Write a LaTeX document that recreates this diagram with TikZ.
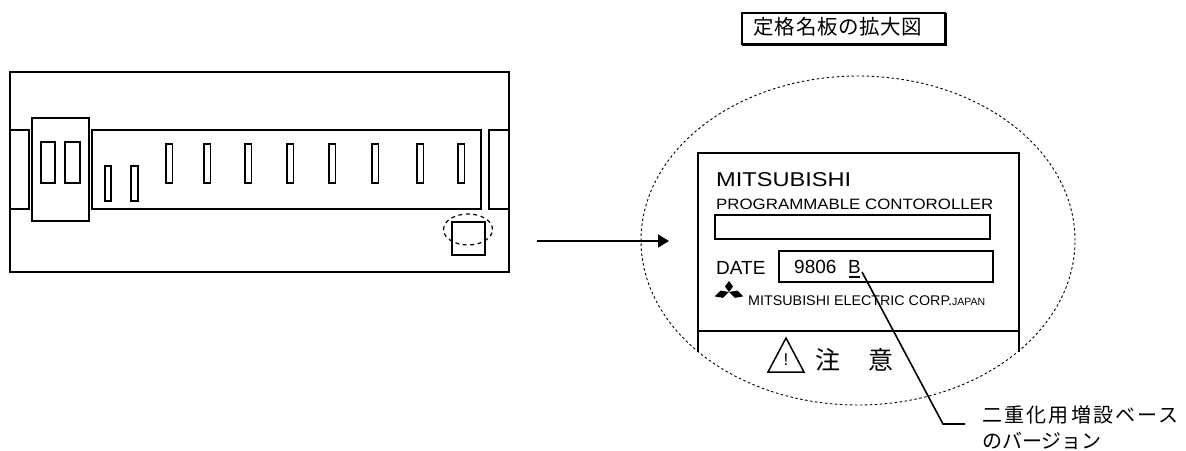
\documentclass[tikz,border=0pt]{standalone}
\usepackage{graphicx}
\usepackage{fontspec}
\setmainfont{Liberation Sans}
\newfontfamily\jp{Noto Sans CJK JP}
\newfontfamily\jpls[LetterSpace=11]{Noto Sans CJK JP}
\newfontfamily\jpt[LetterSpace=3]{Noto Sans CJK JP}
\usetikzlibrary{arrows.meta,shapes.geometric}
\newcommand\fsz[1]{\fontsize{#1}{#1}\selectfont}
\tikzset{
  dev/.style={line width=2.2pt},
  slot/.style={line width=1.9pt},
  plate/.style={line width=2.1pt},
  txt/.style={inner sep=0pt, anchor=base west},
  bigdash/.style={draw, ellipse, inner sep=0pt, line width=0.9pt, dash pattern=on 2.5pt off 2.5pt},
  smalldash/.style={draw, ellipse, inner sep=0pt, line width=1.2pt, dash pattern=on 4pt off 3.5pt},
  rhomb/.style={fill=black}
}
\begin{document}
\begin{tikzpicture}[x=1pt,y=-1pt]
\useasboundingbox (0,0) rectangle (1186,450);

% ---------- left device ----------
\draw[dev] (10,72) rectangle (509,272);
\draw[dev] (10,130) rectangle (29,209);
\draw[dev] (489,130) rectangle (509,209);
\draw[dev] (32,118) rectangle (89,221);
\draw[dev] (41,142) rectangle (55,183);
\draw[dev] (65,142) rectangle (80,183);
\draw[dev] (92,130) rectangle (481,209);
\draw[slot] (105,166) rectangle (111,201);
\draw[slot] (131,166) rectangle (138,201);
\foreach \xx in {166,204,245,287,329,372,417,458}
  \draw[slot] (\xx,144) rectangle ++(6.5,39);
\node[draw, dev, inner sep=0pt, minimum width=33pt, minimum height=33pt] (sq) at (468.5,238.5) {};
\node[smalldash, minimum width=49pt, minimum height=31pt] (smallell) at (468,229.5) {};

% ---------- arrow ----------
\coordinate (as) at (537,241);
\coordinate (ae) at (669,241);
\draw[line width=1.4pt, -{Triangle[length=11pt,width=13pt]}] (as) -- (ae);

% ---------- title ----------
\node[inner sep=0pt] (title) at (838,27) {\jpt\fsz{20.5}定格名板の拡大図};
\draw[line width=1.2pt] (742,13) rectangle (945,44);
\draw[line width=2.8pt] (945.5,12.5) -- (945.5,44.5) -- (742,44.5);

% ---------- enlarged ellipse ----------
\node[bigdash, minimum width=434pt, minimum height=329pt] (bigell) at (858,240.5) {};

% ---------- nameplate ----------
\draw[plate] (698,153) rectangle (1019,331);
\draw[plate] (698,331) -- (698,352);
\draw[plate] (1019,331) -- (1019,352);

\node[txt] (mitsu) at (716,186.5) {\fsz{20}\resizebox{135pt}{\height}{MITSUBISHI}};
\node[txt] (prog) at (716,209) {\fsz{15}\resizebox{277pt}{\height}{PROGRAMMABLE CONTOROLLER}};
\draw[plate] (715,215) rectangle (990,239);
\node[txt] (date) at (716,274) {\fsz{19}DATE};
\draw[plate] (779,251) rectangle (993,282);
\node[txt] (num) at (794,273.5) {\fsz{19}9806};
\node[txt] (B) at (848,273.5) {\fsz{19}B};
\draw[line width=1.1pt] (849,277) -- (859.5,277);

% logo
\begin{scope}[shift={(729,292)}]
  \fill[rhomb, rotate=90]  (0pt,0pt) -- (5.5pt,4pt) -- (11pt,0pt) -- (5.5pt,-4pt) -- cycle;
  \fill[rhomb, rotate=197] (0pt,0pt) -- (7.5pt,3.8pt) -- (15pt,0pt) -- (7.5pt,-3.8pt) -- cycle;
  \fill[rhomb, rotate=343] (0pt,0pt) -- (7.5pt,3.8pt) -- (15pt,0pt) -- (7.5pt,-3.8pt) -- cycle;
\end{scope}
\node[txt] (corp) at (748,305) {\fsz{14}\resizebox{204pt}{\height}{MITSUBISHI ELECTRIC CORP.}};
\node[txt] (japan) at (952,305) {\fsz{10.5}JAPAN};

% caution
\draw[line width=1.5pt, line join=miter] (768,372) -- (804,372) -- (786,338) -- cycle;
\node[inner sep=0pt] (excl) at (786,360) {\fsz{17}!};
\node[inner sep=0pt] (chu) at (827.5,359.5) {\jp\fsz{25}注};
\node[inner sep=0pt] (i) at (880.5,359.5) {\jp\fsz{25}意};

% ---------- leader ----------
\coordinate (bpt) at (862,272);
\coordinate (bend) at (943,424);
\coordinate (lend) at (965,424);
\draw[line width=1.6pt] (bpt) -- (bend) -- (lend);
\node[inner sep=0pt, anchor=west] (lbl1) at (982,414.5) {\jpls\fsz{20}二重化用増設ベース};
\node[inner sep=0pt, anchor=west] (lbl2) at (982,441) {\jp\fsz{20}のバージョン};
\end{tikzpicture}
\end{document}
